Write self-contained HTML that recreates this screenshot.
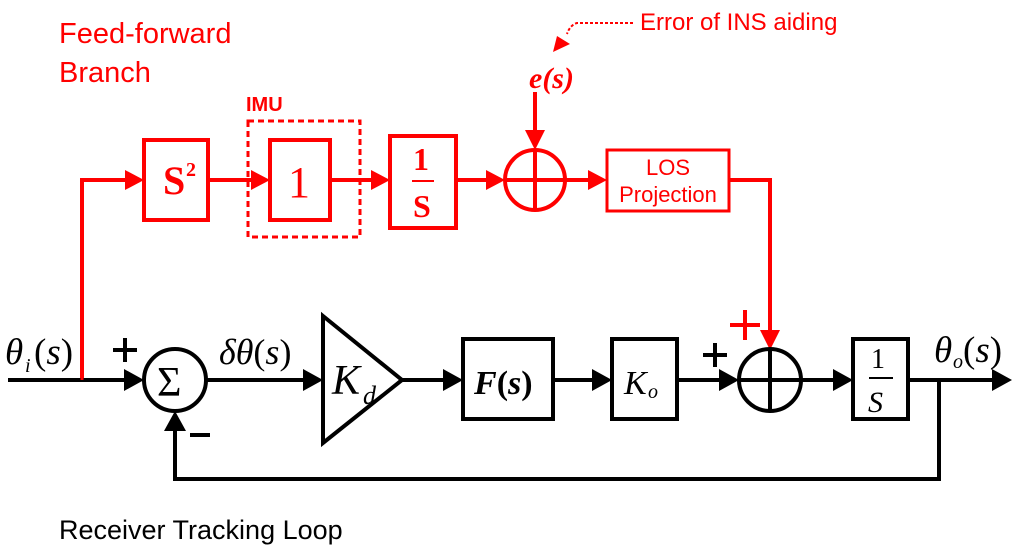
<!DOCTYPE html>
<html><head><meta charset="utf-8"><style>
html,body{margin:0;padding:0;background:#fff;width:1024px;height:552px;overflow:hidden}
svg{display:block}
.s{font-family:"Liberation Sans",sans-serif}
.t{font-family:"Liberation Serif",serif}
</style></head><body>
<svg width="1024" height="552" viewBox="0 0 1024 552" xmlns="http://www.w3.org/2000/svg">
<!-- RED feed-forward -->
<g stroke="#f00" stroke-width="4" fill="none">
<polyline points="82,380 82,180 128,180"/>
<line x1="208" y1="180" x2="256" y2="180"/>
<line x1="330" y1="180" x2="375" y2="180"/>
<line x1="456" y1="180" x2="492" y2="180"/>
<line x1="565" y1="180" x2="592" y2="180"/>
<line x1="535" y1="92" x2="535" y2="136"/>
<polyline points="729,180 770,180 770,332"/>
<rect x="144" y="140" width="64" height="80"/>
<rect x="270" y="140" width="60" height="80"/>
<rect x="390" y="136" width="66" height="92"/>
<circle cx="535" cy="180" r="30"/>
<line x1="505" y1="180" x2="565" y2="180"/>
<line x1="535" y1="150" x2="535" y2="210"/>
<rect x="248" y="121" width="112" height="116" stroke-dasharray="6,4" stroke-width="3"/>
<rect x="607" y="150" width="122" height="61" stroke-width="3"/>
<path d="M633,23 L577,23 Q570,25 567,34" stroke-width="2" stroke-dasharray="3,2"/>
<line x1="730" y1="325" x2="760" y2="325"/>
<line x1="745" y1="310" x2="745" y2="340"/>
</g>
<g fill="#f00">
<path d="M144,180 L125,170 L125,190 z"/>
<path d="M270,180 L251,170 L251,190 z"/>
<path d="M390,180 L371,170 L371,190 z"/>
<path d="M505,180 L486,170 L486,190 z"/>
<path d="M607,180 L588,170 L588,190 z"/>
<path d="M535,150 L525,130 L545,130 z"/>
<path d="M770,350 L760,330 L780,330 z"/>
<path d="M553,52 L557,36 L570,44 z"/>
</g>
<g fill="#f00">
<text class="s" x="59" y="43" font-size="29">Feed-forward</text>
<text class="s" x="59" y="82" font-size="29">Branch</text>
<text class="s" x="246" y="111" font-size="20" font-weight="bold">IMU</text>
<text class="t" x="163" y="194" font-size="40" font-weight="bold">S</text>
<text class="t" x="186" y="176" font-size="20" font-weight="bold">2</text>
<text class="t" x="288" y="197" font-size="44">1</text>
<text class="t" x="413" y="170" font-size="32" font-weight="bold">1</text>
<rect x="412" y="180" width="22" height="2"/>
<text class="t" x="413" y="217" font-size="32" font-weight="bold">S</text>
<text class="t" x="529" y="88" font-size="30" font-weight="bold" font-style="italic">e(s)</text>
<text class="s" x="640" y="30" font-size="24">Error of INS aiding</text>
<text class="s" x="668" y="175" font-size="22" text-anchor="middle">LOS</text>
<text class="s" x="668" y="202" font-size="22" text-anchor="middle">Projection</text>
</g>
<!-- BLACK main loop -->
<g stroke="#000" stroke-width="4" fill="none">
<line x1="8" y1="380" x2="128" y2="380"/>
<circle cx="175" cy="380" r="31"/>
<line x1="206" y1="380" x2="305" y2="380"/>
<path d="M323,316 L402,380 L323,443 z"/>
<line x1="402" y1="380" x2="446" y2="380"/>
<rect x="463" y="339" width="90" height="80"/>
<line x1="553" y1="380" x2="595" y2="380"/>
<rect x="612" y="339" width="65" height="80"/>
<line x1="677" y1="380" x2="722" y2="380"/>
<circle cx="770" cy="380" r="31"/>
<line x1="739" y1="380" x2="801" y2="380"/>
<line x1="770" y1="349" x2="770" y2="411"/>
<line x1="801" y1="380" x2="836" y2="380"/>
<rect x="853" y="339" width="55" height="80"/>
<line x1="908" y1="380" x2="995" y2="380"/>
<polyline points="939,380 939,479 175,479 175,428"/>
<line x1="113" y1="350" x2="137" y2="350"/>
<line x1="125" y1="338" x2="125" y2="362"/>
<line x1="190" y1="435" x2="210" y2="435"/>
<line x1="703" y1="355" x2="727" y2="355"/>
<line x1="715" y1="343" x2="715" y2="367"/>
</g>
<line x1="82" y1="180" x2="82" y2="380" stroke="#f00" stroke-width="3"/>
<g fill="#000">
<path d="M144,380 L124,369 L124,391 z"/>
<path d="M323,380 L303,369 L303,391 z"/>
<path d="M463,380 L443,369 L443,391 z"/>
<path d="M612,380 L592,369 L592,391 z"/>
<path d="M739,380 L719,369 L719,391 z"/>
<path d="M853,380 L833,369 L833,391 z"/>
<path d="M1012,380 L992,369 L992,391 z"/>
<path d="M175,411 L164,431 L186,431 z"/>
<text class="t" x="5" y="364" font-size="37" font-style="italic">θ</text>
<text class="t" x="25" y="372" font-size="20" font-style="italic">i</text>
<text class="t" x="34" y="364" font-size="37">(<tspan font-style="italic">s</tspan>)</text>
<text class="t" x="157" y="396" font-size="42">Σ</text>
<text class="t" x="219" y="364" font-size="36" font-style="italic">δθ<tspan font-style="normal">(</tspan>s<tspan font-style="normal">)</tspan></text>
<text class="t" x="332" y="394" font-size="42" font-style="italic">K</text>
<text class="t" x="363" y="404" font-size="26" font-style="italic">d</text>
<text class="t" x="474" y="394" font-size="34" font-style="italic" font-weight="bold">F<tspan font-style="normal">(</tspan>s<tspan font-style="normal">)</tspan></text>
<text class="t" x="624" y="394" font-size="34" font-style="italic">K</text>
<text class="t" x="648" y="398" font-size="20" font-style="italic">o</text>
<text class="t" x="871" y="368" font-size="28">1</text>
<rect x="869" y="377" width="24" height="2"/>
<text class="t" x="868" y="412" font-size="30" font-style="italic">S</text>
<text class="t" x="934" y="362" font-size="37" font-style="italic">θ</text>
<text class="t" x="953" y="368" font-size="20" font-style="italic">o</text>
<text class="t" x="963" y="362" font-size="37">(<tspan font-style="italic">s</tspan>)</text>
<text class="s" x="59" y="539" font-size="27">Receiver Tracking Loop</text>
</g>
</svg>
</body></html>
